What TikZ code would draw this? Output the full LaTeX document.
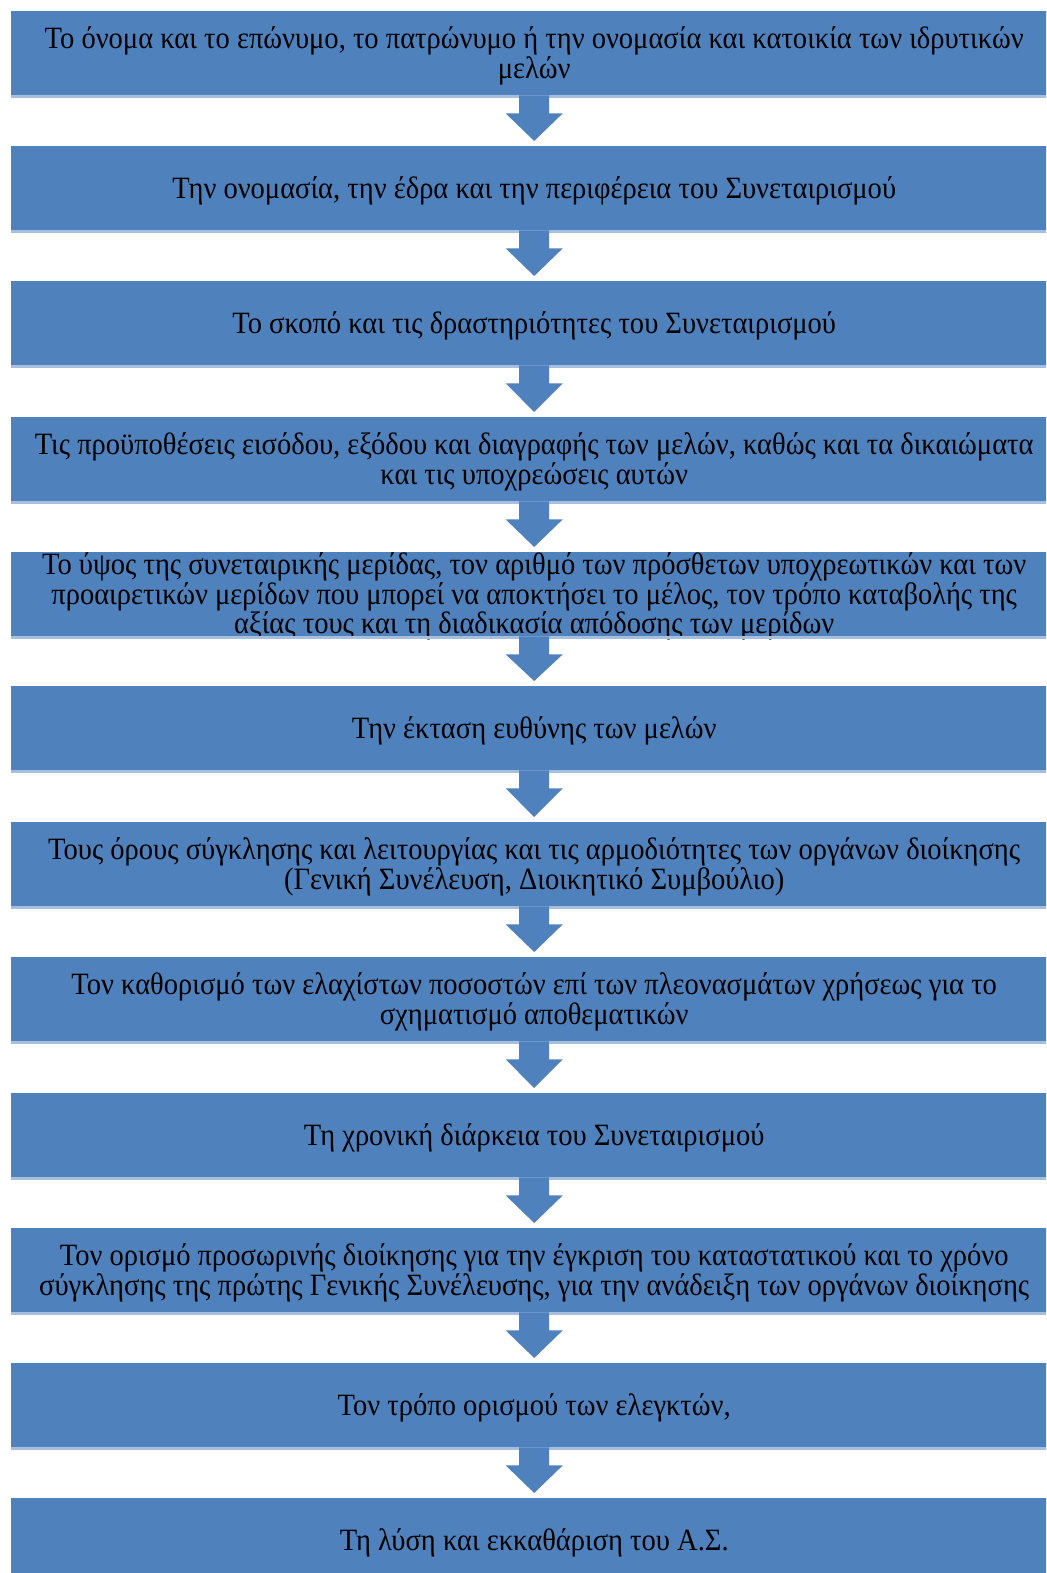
\documentclass[tikz,border=0pt]{standalone}
\usepackage{fontspec}
\setmainfont{Liberation Serif}[FakeStretch=0.92]
\usetikzlibrary{calc}
\definecolor{boxblue}{HTML}{4F81BD}
\definecolor{stripblue}{HTML}{A7BFDE}
\tikzset{
  stepbox/.style={fill=boxblue, draw=none, anchor=north west, minimum width=1046pt,
    minimum height=84pt, inner sep=0pt},
  steptext/.style={inner sep=0pt, align=center,
    font=\fontsize{31}{28}\selectfont, text=black},
  downarrow/.style={fill=boxblue, draw=none},
  strip/.style={fill=stripblue, draw=none}
}
\begin{document}
\begin{tikzpicture}[x=1pt,y=-1pt]
\useasboundingbox (0,0) rectangle (1046,1573);
\clip (0,0) rectangle (1046,1573);
\fill[white] (0,0) rectangle (1046,1573);
\node[stepbox] (b1) at (11,11) {};
\node[stepbox] (b2) at (11,146) {};
\node[stepbox] (b3) at (11,281) {};
\node[stepbox] (b4) at (11,417) {};
\node[stepbox] (b5) at (11,552) {};
\node[stepbox] (b6) at (11,686) {};
\node[stepbox] (b7) at (11,822) {};
\node[stepbox] (b8) at (11,957) {};
\node[stepbox] (b9) at (11,1093) {};
\node[stepbox] (b10) at (11,1228) {};
\node[stepbox] (b11) at (11,1363) {};
\node[stepbox] (b12) at (11,1498) {};
\node[steptext] (t1) at ([yshift=-2.5pt]b1.center) {Το όνομα και το επώνυμο, το πατρώνυμο ή την ονομασία και κατοικία των ιδρυτικών\\μελών};
\node[steptext] (t2) at ([yshift=-2.5pt]b2.center) {Την ονομασία, την έδρα και την περιφέρεια του Συνεταιρισμού};
\node[steptext] (t3) at ([yshift=-2.5pt]b3.center) {Το σκοπό και τις δραστηριότητες του Συνεταιρισμού};
\node[steptext] (t4) at ([yshift=-2.5pt]b4.center) {Τις προϋποθέσεις εισόδου, εξόδου και διαγραφής των μελών, καθώς και τα δικαιώματα\\και τις υποχρεώσεις αυτών};
\node[steptext] (t5) at ([yshift=-2.5pt]b5.center) {Το ύψος της συνεταιρικής μερίδας, τον αριθμό των πρόσθετων υποχρεωτικών και των\\προαιρετικών μερίδων που μπορεί να αποκτήσει το μέλος, τον τρόπο καταβολής της\\αξίας τους και τη διαδικασία απόδοσης των μερίδων};
\node[steptext] (t6) at ([yshift=-2.5pt]b6.center) {Την έκταση ευθύνης των μελών};
\node[steptext] (t7) at ([yshift=-2.5pt]b7.center) {Τους όρους σύγκλησης και λειτουργίας και τις αρμοδιότητες των οργάνων διοίκησης\\(Γενική Συνέλευση, Διοικητικό Συμβούλιο)};
\node[steptext] (t8) at ([yshift=-2.5pt]b8.center) {Τον καθορισμό των ελαχίστων ποσοστών επί των πλεονασμάτων χρήσεως για το\\σχηματισμό αποθεματικών};
\node[steptext] (t9) at ([yshift=-2.5pt]b9.center) {Τη χρονική διάρκεια του Συνεταιρισμού};
\node[steptext] (t10) at ([yshift=-2.5pt]b10.center) {Τον ορισμό προσωρινής διοίκησης για την έγκριση του καταστατικού και το χρόνο\\σύγκλησης της πρώτης Γενικής Συνέλευσης, για την ανάδειξη των οργάνων διοίκησης};
\node[steptext] (t11) at ([yshift=-2.5pt]b11.center) {Τον τρόπο ορισμού των ελεγκτών,};
\node[steptext] (t12) at ([yshift=-2.5pt]b12.center) {Τη λύση και εκκαθάριση του Α.Σ.};
\foreach \i in {1,...,11} {
  \fill[strip] (b\i.south west) rectangle ($(b\i.south east)+(0,3)$);
}
\foreach \i [evaluate=\i as \j using int(\i+1)] in {1,...,11} {
  \fill[downarrow] ($(b\i.south)+(-15,0)$) -- ($(b\i.south)+(15,0)$) -- ($(b\i.south)+(15,18)$)
    -- ($(b\i.south)+(28.5,18)$) -- ($(b\j.north)+(0,-5)$) -- ($(b\i.south)+(-28.5,18)$)
    -- ($(b\i.south)+(-15,18)$) -- cycle;
}
\end{tikzpicture}
\end{document}
